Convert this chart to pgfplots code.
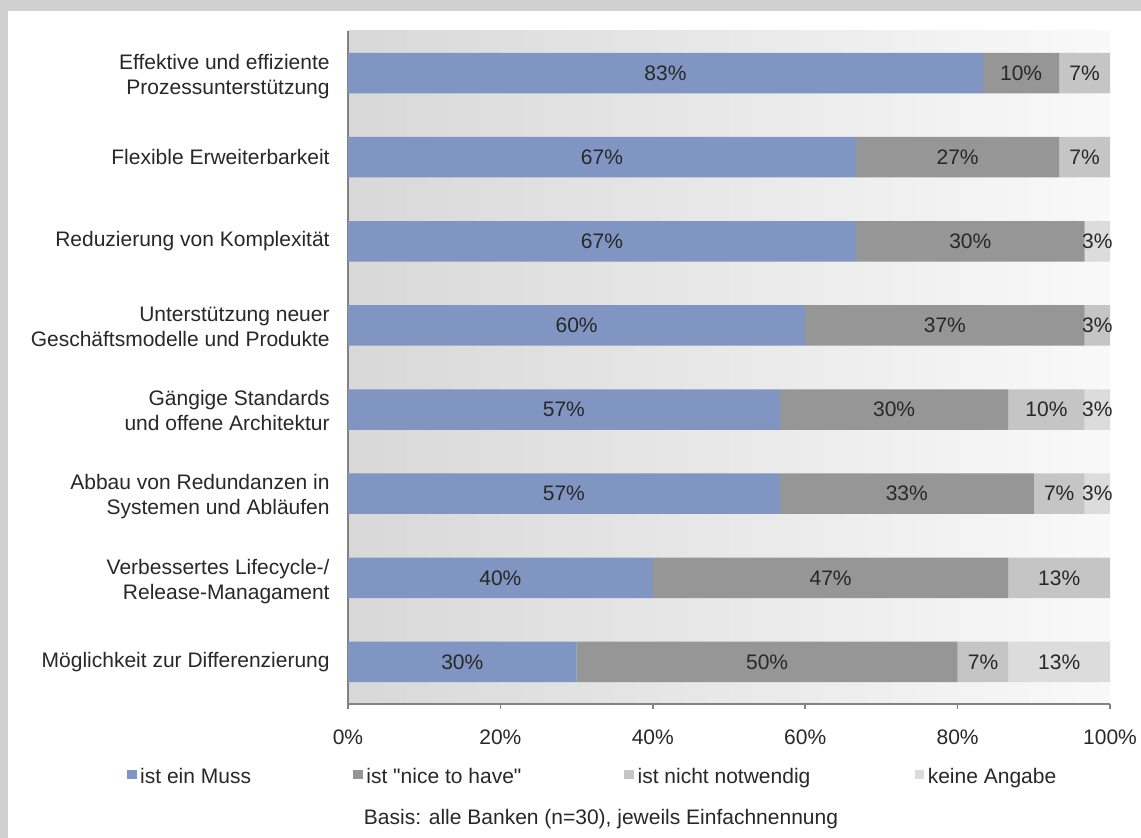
\documentclass[border=0pt]{standalone}
\usepackage{pgfplots}
\pgfplotsset{compat=1.18}
\usepackage{fontspec}
\setmainfont{Liberation Sans}[Ligatures=TeXOff]
\definecolor{cmuss}{RGB}{128,149,193}
\definecolor{cnice}{RGB}{150,150,150}
\definecolor{cnicht}{RGB}{197,197,197}
\definecolor{ckeine}{RGB}{220,220,220}
\definecolor{framec}{RGB}{208,208,208}
\definecolor{bgl}{RGB}{216,216,216}
\definecolor{bgr}{RGB}{249,249,249}
\definecolor{axc}{RGB}{130,130,130}
\definecolor{txt}{RGB}{40,40,40}
\newcommand{\tf}{\fontsize{10.5}{12.5}\selectfont}
\newcommand{\mlab}[2]{\raisebox{-4.6pt}[0pt][0pt]{\begin{tabular}{@{}r@{}}#1\\#2\end{tabular}}}
\begin{document}
\begin{tikzpicture}
\useasboundingbox (0,0) rectangle (570.5pt,419pt);
\fill[white] (0,0) rectangle (570.5pt,419pt);
\fill[framec] (0,0) rectangle (4pt,419pt);
\fill[framec] (0,413.5pt) rectangle (570.5pt,419pt);
\begin{axis}[
  at={(174pt,67pt)}, anchor=south west,
  scale only axis, width=381pt, height=336.5pt,
  xbar stacked, bar width=20.3pt,
  xmin=0, xmax=100, ymin=-0.5, ymax=7.5, y dir=reverse,
  axis background/.style={left color=bgl, right color=bgr},
  axis x line*=bottom, axis y line*=left,
  axis line style={axc, line width=0.8pt, -},
  tick align=outside, major tick length=2.5pt,
  x tick style={axc, line width=0.8pt},
  y tick style={draw=none},
  xtick={0,20,...,100},
  xticklabel={\pgfmathprintnumber{\tick}\%},
  /pgf/number format/assume math mode=true,
  xticklabel style={font=\tf, text=txt, inner sep=0pt, yshift=-10pt},
  ytick={0,...,7},
  yticklabels={{\mlab{Effektive und effiziente}{Prozessunterstützung}},
               {Flexible Erweiterbarkeit},
               {Reduzierung von Komplexität},
               {\mlab{Unterstützung neuer}{Geschäftsmodelle und Produkte}},
               {\mlab{Gängige Standards}{und offene Architektur}},
               {\mlab{Abbau von Redundanzen in}{Systemen und Abläufen}},
               {\mlab{Verbessertes Lifecycle-/}{Release-Managament}},
               {Möglichkeit zur Differenzierung}},
  yticklabel style={font=\tf, text=txt, inner sep=0pt, xshift=-6.5pt},
  point meta=explicit,
  nodes near coords={\pgfmathfloatifflags{\pgfplotspointmeta}{0}{}{\pgfmathprintnumber[fixed,precision=0]{\pgfplotspointmeta}\%}},
  every node near coord/.append style={anchor=center, font=\tf, text=txt},
  legend columns=4,
  legend cell align=left,
  legend image code/.code={\fill[#1] (0pt,-1.2pt) rectangle (4.8pt,3.6pt);},
  legend style={at={(-0.2900,-0.1085)}, anchor=west, draw=none, fill=none,
     inner sep=0pt, outer sep=0pt, font=\tf, text=txt,
     nodes={inner sep=0pt},
     /tikz/every odd column/.append style={column sep=1.8pt},
     /tikz/every even column/.append style={column sep=0pt}},
]
\addplot[fill=cmuss, draw=none] coordinates {(83.333,0)[83] (66.667,1)[67] (66.667,2)[67] (60,3)[60] (56.667,4)[57] (56.667,5)[57] (40,6)[40] (30,7)[30]};
\addplot[fill=cnice, draw=none] coordinates {(10,0)[10] (26.666,1)[27] (30,2)[30] (36.667,3)[37] (30,4)[30] (33.333,5)[33] (46.667,6)[47] (50,7)[50]};
\addplot[fill=cnicht, draw=none] coordinates {(6.667,0)[7] (6.667,1)[7] (0,2)[0] (3.333,3)[3] (10,4)[10] (6.667,5)[7] (13.333,6)[13] (6.667,7)[7]};
\addplot[fill=ckeine, draw=none] coordinates {(0,0)[0] (0,1)[0] (3.333,2)[3] (0,3)[0] (3.333,4)[3] (3.333,5)[3] (0,6)[0] (13.333,7)[13]};
\legend{\makebox[106.5pt][l]{ist ein Muss},\makebox[129pt][l]{ist "nice to have"},\makebox[138.5pt][l]{ist nicht notwendig},keine Angabe}
\end{axis}
\node[font=\tf, text=txt] at (300.5pt,9.5pt) {Basis: alle Banken (n=30), jeweils Einfachnennung};
\end{tikzpicture}
\end{document}
